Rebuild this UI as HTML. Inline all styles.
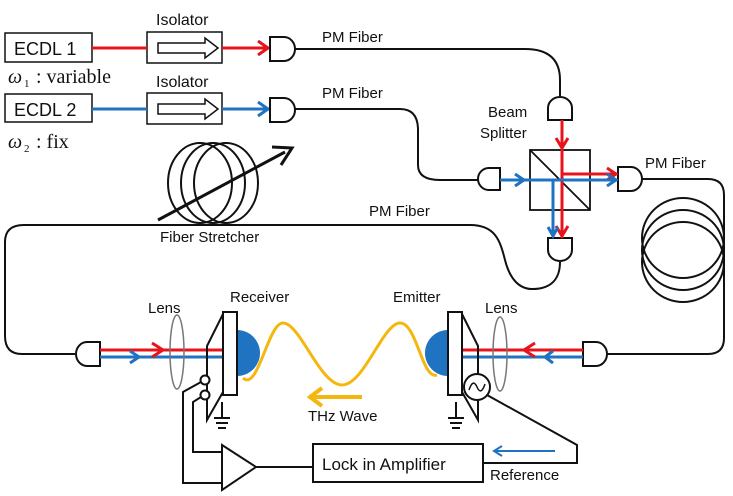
<!DOCTYPE html>
<html><head><meta charset="utf-8"><style>
html,body{margin:0;padding:0;background:#fff}
svg{display:block}
text{font-family:"Liberation Sans",sans-serif;fill:#111}
.s{font-family:"Liberation Serif",serif}
</style></head><body>
<svg width="733" height="496" viewBox="0 0 733 496" xmlns="http://www.w3.org/2000/svg">
<g fill="none" stroke="#111" stroke-width="2">
<rect x="5" y="33" width="87" height="29" stroke-width="1.5"/>
<rect x="5" y="94" width="87" height="28" stroke-width="1.5"/>
<rect x="147" y="32" width="75" height="31" stroke-width="1.5"/>
<rect x="147" y="93" width="75" height="31" stroke-width="1.5"/>
<path d="M158,43 H205 V38 L218,48 L205,58 V53 H158 Z" stroke-width="1.5"/>
<path d="M158,104 H205 V99 L218,109 L205,119 V114 H158 Z" stroke-width="1.5"/>
</g>
<g stroke-width="3" fill="none">
<line x1="92" y1="48" x2="147" y2="48" stroke="#e8141b"/>
<line x1="222" y1="48" x2="270" y2="48" stroke="#e8141b"/>
<path d="M258,41 L268,48 L258,55" stroke="#e8141b"/>
<line x1="92" y1="109" x2="147" y2="109" stroke="#1f73c0"/>
<line x1="222" y1="109" x2="270" y2="109" stroke="#1f73c0"/>
<path d="M258,102 L268,109 L258,116" stroke="#1f73c0"/>
</g>
<g fill="none" stroke="#111" stroke-width="2">
<path d="M294,49 H525 Q560,49 560,80 V96"/>
<path d="M294,109 H400 Q418,109 418,130 V165 Q418,180 440,180 H478"/>
<path d="M642,179 H708 Q724,179 724,195 V338 Q724,354 708,354 H607"/>
<path d="M75,354 H22 Q5,354 5,336 V242 Q5,225 24,225 H470 C495,225 500,240 505,260 C510,280 520,289 532,289 C552,289 560,278 560,262"/>
<ellipse cx="683" cy="238" rx="41" ry="40"/>
<ellipse cx="683" cy="250" rx="41" ry="40"/>
<ellipse cx="683" cy="262" rx="41" ry="40"/>
<ellipse cx="200" cy="183" rx="32" ry="40"/>
<ellipse cx="213" cy="183" rx="32" ry="40"/>
<ellipse cx="226" cy="183" rx="32" ry="40"/>
<line x1="158" y1="220" x2="285" y2="152" stroke-width="3"/>
<path d="M272,147 L292,148 L281,165" stroke-width="3"/>
<path d="M270,37 H284 A11,12 0 0 1 284,61 H270 Z" fill="#fff"/>
<path d="M270,98 H284 A11,12 0 0 1 284,122 H270 Z" fill="#fff"/>
<path d="M548,120 V108 A12,11 0 0 1 572,108 V120 Z" fill="#fff"/>
<path d="M500,168 H489 A11,11 0 0 0 489,190 H500 Z" fill="#fff"/>
<path d="M618,167 H631 A11,12 0 0 1 631,191 H618 Z" fill="#fff"/>
<path d="M548,238 V250 A12,11 0 0 0 572,250 V238 Z" fill="#fff"/>
<path d="M100,342 H87 A11,12 0 0 0 87,366 H100 Z" fill="#fff"/>
<path d="M583,342 H596 A11,12 0 0 1 596,366 H583 Z" fill="#fff"/>
<rect x="530" y="150" width="60" height="60" stroke-width="1.8"/>
<line x1="530" y1="150" x2="590" y2="210" stroke-width="1.8"/>
</g>
<g fill="none" stroke-width="3">
<path d="M562,120 V238" stroke="#e8141b"/>
<path d="M556,138 L562,148 L568,138" stroke="#e8141b"/>
<path d="M556,226 L562,236 L568,226" stroke="#e8141b"/>
<path d="M562,174 H617" stroke="#e8141b"/>
<path d="M607,168 L616,174 L607,180" stroke="#e8141b"/>
<path d="M500,180 H617" stroke="#1f73c0"/>
<path d="M515,174 L524,180 L515,186" stroke="#1f73c0"/>
<path d="M607,174 L616,180 L607,186" stroke="#1f73c0"/>
<path d="M553,180 V237" stroke="#1f73c0"/>
<path d="M548,227 L553,236 L558,227" stroke="#1f73c0"/>
<path d="M100,350 H223" stroke="#e8141b"/>
<path d="M100,357 H223" stroke="#1f73c0"/>
<path d="M152,343 L163,350 L152,357" stroke="#e8141b"/>
<path d="M130,351 L139,357 L130,363" stroke="#1f73c0"/>
<path d="M583,350 H462" stroke="#e8141b"/>
<path d="M583,357 H462" stroke="#1f73c0"/>
<path d="M535,343 L524,350 L535,357" stroke="#e8141b"/>
<path d="M553,351 L545,357 L553,363" stroke="#1f73c0"/>
<path d="M243,378 C258,392 268,323 283,323 C300,323 320,385 342,385 C364,385 383,323 400,323 C417,323 422,380 437,375" stroke="#f5b70f"/>
<path d="M362,397 H313" stroke="#f5b70f" stroke-width="4"/>
<path d="M322,388 L310,397 L322,406" stroke="#f5b70f" stroke-width="4"/>
<path d="M555,451 H496" stroke="#1f73c0" stroke-width="2"/>
<path d="M502,446 L494,451 L502,456" stroke="#1f73c0" stroke-width="2"/>
</g>
<path d="M237,330 A23,23 0 0 1 237,376 Z" fill="#1f73c0"/>
<path d="M448,330 A23,23 0 0 0 448,376 Z" fill="#1f73c0"/>
<g fill="none" stroke="#111" stroke-width="2">
<ellipse cx="177" cy="352" rx="7" ry="37" stroke="#777" stroke-width="1.5"/>
<ellipse cx="500" cy="354" rx="7" ry="37" stroke="#777" stroke-width="1.5"/>
<rect x="223" y="312" width="14" height="83" fill="#fff"/>
<rect x="448" y="312" width="14" height="83" fill="#fff"/>
<path d="M223,314 L207,346 V420 L223,392"/>
<path d="M462,314 L478,346 V420 L462,392"/>
<circle cx="205" cy="380" r="4.5" fill="#fff"/>
<circle cx="205" cy="395" r="4.5" fill="#fff"/>
<path d="M201,382 L183,392 V483 H222"/>
<path d="M201,397 L193,402 V452 H222"/>
<path d="M222,445 V490 L256,467 Z" fill="#fff"/>
<path d="M256,467 H313"/>
<rect x="313" y="444" width="170" height="38"/>
<path d="M222,402 V418 M214,418 H230 M216,423 H228 M218,428 H226"/>
<path d="M456,402 V418 M448,418 H464 M450,423 H462 M452,428 H460"/>
<circle cx="477" cy="387" r="13" fill="#fff"/>
<path d="M469,390 Q473,378 477,387 Q481,396 485,384" stroke-width="1.5"/>
<path d="M487,395 L577,445 V463 H483"/>
</g>
<text x="14" y="55" font-size="18">ECDL 1</text>
<text x="14" y="116" font-size="18">ECDL 2</text>
<text x="156" y="25" font-size="16">Isolator</text>
<text x="156" y="87" font-size="16">Isolator</text>
<text class="s" x="8" y="83" font-size="20" font-style="italic">ω</text>
<text class="s" x="24" y="87" font-size="11">1</text>
<text class="s" x="36" y="83" font-size="20">: variable</text>
<text class="s" x="8" y="148" font-size="20" font-style="italic">ω</text>
<text class="s" x="24" y="152" font-size="11">2</text>
<text class="s" x="36" y="148" font-size="20">: fix</text>
<text x="322" y="42" font-size="15">PM Fiber</text>
<text x="322" y="98" font-size="15">PM Fiber</text>
<text x="369" y="216" font-size="15">PM Fiber</text>
<text x="645" y="168" font-size="15">PM Fiber</text>
<text x="488" y="117" font-size="15">Beam</text>
<text x="480" y="138" font-size="15">Splitter</text>
<text x="160" y="242" font-size="15">Fiber Stretcher</text>
<text x="148" y="313" font-size="15">Lens</text>
<text x="230" y="302" font-size="15">Receiver</text>
<text x="393" y="302" font-size="15">Emitter</text>
<text x="485" y="313" font-size="15">Lens</text>
<text x="308" y="421" font-size="15">THz Wave</text>
<text x="322" y="470" font-size="17">Lock in Amplifier</text>
<text x="490" y="480" font-size="15">Reference</text>
</svg>
</body></html>
